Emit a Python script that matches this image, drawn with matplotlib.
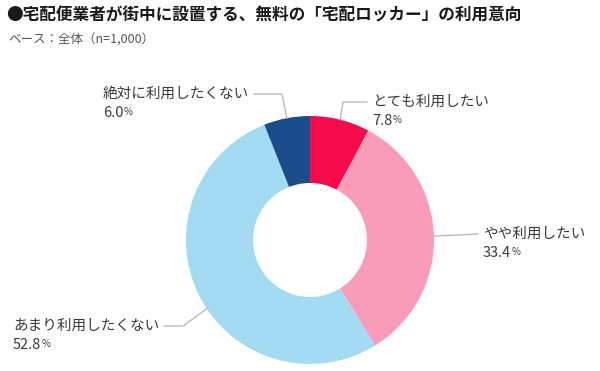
import numpy as np
import matplotlib
matplotlib.use('Agg')
import matplotlib.pyplot as plt

plt.rcParams['font.family'] = ['Noto Sans CJK JP', 'DejaVu Sans']

title = '●宅配便業者が街中に設置する、無料の「宅配ロッカー」の利用意向'
subtitle = 'ベース：全体（n=1,000）'
labels = ['とても利用したい', 'やや利用したい', 'あまり利用したくない', '絶対に利用したくない']
values = [7.8, 33.4, 52.8, 6.0]
colors = ['#f50a4b', '#f99cb9', '#a2dbf2', '#1b4b88']

# layout in pixels (y from top)
W, H = 600, 371
cx, cy = 310, 240
r_out, r_in = 124, 57
# label text position (x, y of first line), and elbow point of leader line
label_pos = [(372, 102), (483, 234), (13, 326), (103, 94)]
elbow = [(343, 102), (478, 234), (183, 326), (282, 94)]
line_end = [367, 478, 164, 254]

fig = plt.figure(figsize=(6, 3.71), dpi=100)
ax = fig.add_axes([0, 0, 1, 1])

wedges, _ = ax.pie(values, colors=colors, startangle=90, counterclock=False,
                   center=(cx, H - cy), radius=r_out,
                   wedgeprops=dict(width=r_out - r_in, linewidth=0))
ax.set_xlim(0, W)
ax.set_ylim(0, H)
ax.set_aspect('equal')
ax.axis('off')

tc = '#3a3a3a'
lc = '#b5b5b5'
cum = np.cumsum([0] + values[:-1])
for i, lab in enumerate(labels):
    mid = (cum[i] + values[i] / 2) / 100 * 360
    if i == 2:
        mid -= 7  # leader of the big slice sits a bit off-centre
    ang = np.deg2rad(90 - mid)
    ax0 = cx + r_out * np.cos(ang)
    ay0 = (H - cy) + r_out * np.sin(ang)
    ex, ey = elbow[i]
    ax.plot([ax0, ex, line_end[i]], [ay0, H - ey, H - ey], color=lc, lw=0.9)
    tx, ty = label_pos[i]
    ax.text(tx, H - ty, lab, fontsize=10.5, color=tc, va='center', ha='left')
    num = ax.text(tx, H - ty - 19, f'{values[i]:.1f}', fontsize=10.5, color=tc,
                  va='center', ha='left')
    ax.annotate('%', xy=(1, 0.18), xycoords=num, fontsize=7, color=tc,
                va='bottom', ha='left')

ax.text(6, H - 15, title, fontsize=12, fontweight='bold', color='#1a1a1a',
        va='center', ha='left')
ax.text(8, H - 40, subtitle, fontsize=9, color='#555555', va='center', ha='left')

fig.savefig('out.png', dpi=100, facecolor='white')
